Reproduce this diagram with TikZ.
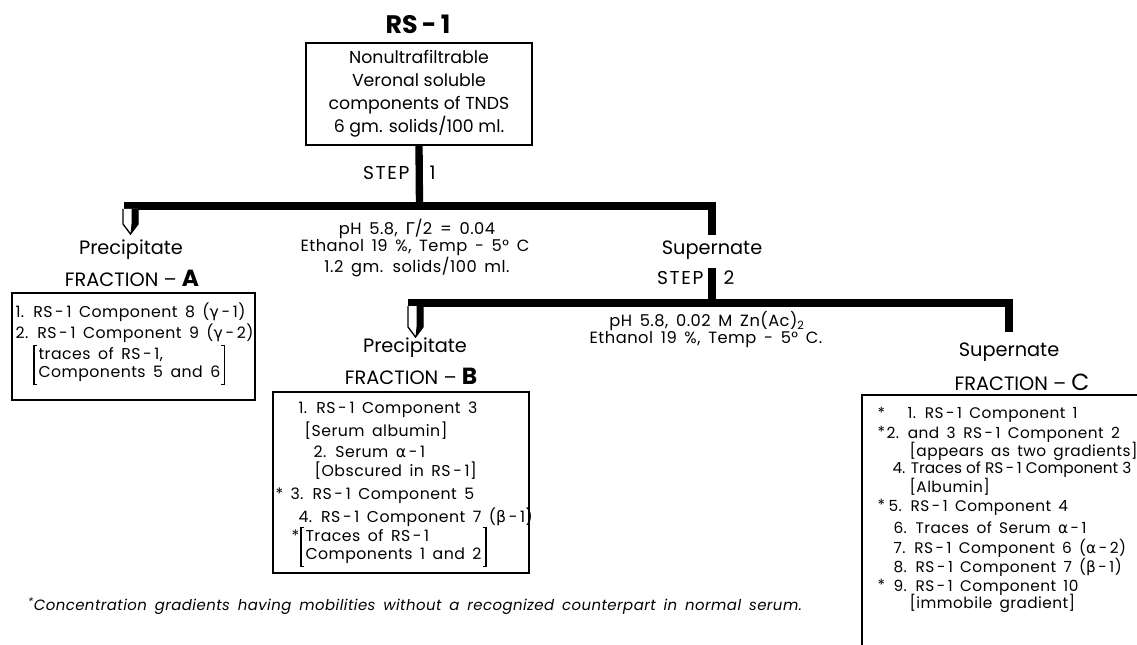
\documentclass[tikz,border=0pt]{standalone}
\usepackage{fontspec}
\setmainfont{Poppins}
\newfontfamily\spaced[LetterSpace=3, WordSpace=1.6]{Poppins}
\newfontfamily\grkfont{DejaVu Sans}
\usetikzlibrary{positioning}

\newcommand{\gk}[1]{{\grkfont #1}}
\newcommand{\rsone}{RS\,-\,1}
% pen-shaped drop: x centre, top, tip
\newcommand{\pentip}[3]{%
  \draw[line width=1pt, fill=white] (#1-7.5,#2) -- (#1-7.5,#3-10) -- (#1,#3) -- (#1+7.5,#3-10) -- (#1+7.5,#2);
  \fill (#1+1,#2) -- (#1+1,#3-10) -- (#1,#3) -- (#1+7.5,#3-10) -- (#1+7.5,#2) -- cycle;}
% square brackets round a two-line node
\newcommand{\sqbr}[1]{%
  \draw[line width=0.8pt] ([xshift=2.5pt]#1.north west) -- (#1.north west) -- (#1.south west) -- ([xshift=2.5pt]#1.south west)
    ([xshift=-2.5pt]#1.north east) -- (#1.north east) -- (#1.south east) -- ([xshift=-2.5pt]#1.south east);}

\tikzset{every picture/.style={line width=0.75pt}}
\tikzset{
  ttl/.style={inner sep=0.75pt, font=\fontsize{19}{22}\selectfont\bfseries},
  hd/.style={inner sep=0.75pt, font=\fontsize{14.5}{16}\selectfont},
  cond/.style={inner sep=0.75pt, font=\spaced\fontsize{12.2}{14}\selectfont},
  stp/.style={inner sep=0.75pt, font=\spaced\addfontfeatures{LetterSpace=9}\fontsize{14}{16}\selectfont},
  lst/.style={anchor=west, inner sep=0.75pt, font=\spaced\fontsize{11.8}{13.5}\selectfont},
  lstc/.style={lst, font=\spaced\fontsize{11.5}{13.5}\selectfont},
  brk/.style={lst, align=left, inner xsep=3pt, inner ysep=1.5pt},
  fbox/.style={draw, line width=1.1pt},
  bar/.style={line width=6pt},
  stem/.style={line width=5.5pt},
}

\begin{document}
\begin{tikzpicture}[x=0.75pt,y=0.75pt,yscale=-1,xscale=1]
\useasboundingbox (0,0) rectangle (1137,645);
\clip (0,0) rectangle (1137,645);

% Text Node
\node[ttl] (rs) at (418,24) {RS\,-\,1};
%Shape: Rectangle
\node[fbox, minimum width=169.5pt, minimum height=76.5pt, align=center,
      font=\fontsize{13}{17.25}\selectfont] (src) at (419,94)
  {Nonultrafiltrable\\Veronal soluble\\components of TNDS\\6 gm. solids/100 ml.};

% Text Node
\node[stp, anchor=east] (st1) at (411,173) {STEP};
\node[stp, anchor=west] (st1n) at (428,173) {1};
% Text Node
\node[cond] (c1a) at (417,229) {pH 5.8, \gk{Γ}/2 = 0.04};
\node[cond] (c1b) at (415,248) {Ethanol 19 \%, Temp - 5° C};
\node[cond] (c1c) at (417,267) {1.2 gm. solids/100 ml.};

% Text Node
\node[hd] (pA) at (131,250) {Precipitate};
\node[hd] (fA) at (132,278) {FRACTION -- {\fontsize{17.5}{20}\selectfont\bfseries A}};
\node[hd] (sup1) at (712,250) {Supernate};

%Straight Lines
\coordinate (j1) at (419.5,206);
\draw[stem] (src.south) -- (j1);
\draw[bar] (j1) -- (pA.north |- j1) -- ++(-7.5,0);
\draw[bar, line join=miter, shorten >=3pt] (j1) -| (sup1.north);
\pentip{130.5}{209}{234}

% Text Node
\node[stp, anchor=east] (st2) at (705,278) {STEP};
\node[stp, anchor=west] (st2n) at (722,278) {2};
\node[cond] (c2a) at (707,321) {pH 5.8, 0.02 M Zn(Ac)\textsubscript{2}};
\node[cond] (c2b) at (706,340) {Ethanol 19 \%, Temp - 5° C.};

% Text Node
\node[hd] (pB) at (415,348) {Precipitate};
\node[hd] (fB) at (411,376) {FRACTION -- {\fontsize{17.5}{20}\selectfont\bfseries B}};
\node[hd] (supC) at (1009,352) {Supernate};
\node[hd] (fC) at (1022,382) {FRACTION -- {\fontsize{17.5}{20}\selectfont C}};

%Straight Lines
\coordinate (j2) at (712,303);
\draw[stem, shorten <=5pt] (sup1.south) -- (j2);
\draw[bar] (j2) -- (pB.north |- j2) -- ++(-7.5,0);
\draw[bar, line join=miter, shorten >=7pt] (j2) -| (supC.north);
\pentip{415.5}{306}{337}

%Shape: Rectangle
\draw[line width=1.1pt] (12,293) rectangle (255,400);
% Text Node
\node[lst] (a1) at (14,312) {1. \rsone\ Component 8 (\gk{γ}\,-\,1)};
\node[lst] (a2) at (14,333) {2. \rsone\ Component 9 (\gk{γ}\,-\,2)};
\node[brk] (a3) at (34,365) {traces of \rsone,\\Components 5 and 6};
\sqbr{a3}

%Shape: Rectangle
\draw[line width=1.1pt] (273,392) rectangle (529,573);
% Text Node
\node[lst] (b1) at (297,410) {1. \rsone\ Component 3};
\node[lst] (b2) at (303,431) {[Serum albumin]};
\node[lst] (b3) at (312,452) {2. Serum \gk{α}\,-\,1};
\node[lst] (b4) at (313,471) {[Obscured in \rsone]};
\node[lst] (b5s) at (274,494) {*};
\node[lst] (b5) at (289,496) {3. \rsone\ Component 5};
\node[lst] (b6) at (297,517) {4. \rsone\ Component 7 (\gk{β}\,-\,1)};
\node[lst] (b7s) at (290,536) {*};
\node[brk] (b7) at (301,547) {Traces of \rsone\\Components 1 and 2};
\sqbr{b7}

%Shape: Rectangle (open to the right and below)
\draw[line width=1.1pt] (1137,395) -- (862,395) -- (862,645);
% Text Node
\node[lstc] (c1s) at (876,413) {*};
\node[lstc] (c1) at (906,415) {1. \rsone\ Component 1};
\node[lstc] (c2s) at (876,432) {*};
\node[lstc] (c2) at (885,435) {2. and 3\enspace \rsone\ Component 2};
\node[lstc] (c3) at (908,451) {[appears as two gradients]};
\node[lstc, font=\fontsize{11.5}{13.5}\selectfont] (c4) at (891,470) {4. Traces of \rsone\ Component 3};
\node[lstc] (c5) at (908,487) {[Albumin]};
\node[lstc] (c6s) at (876,505) {*};
\node[lstc] (c6) at (887,508) {5. \rsone\ Component 4};
\node[lstc] (c7) at (892,528) {6. Traces of Serum \gk{α}\,-\,1};
\node[lstc] (c8) at (892,548) {7. \rsone\ Component 6 (\gk{α}\,-\,2)};
\node[lstc] (c9) at (892,567) {8. \rsone\ Component 7 (\gk{β}\,-\,1)};
\node[lstc] (c10s) at (876,585) {*};
\node[lstc] (c10) at (892,588) {9. \rsone\ Component 10};
\node[lstc] (c11) at (908,603) {[immobile gradient]};

% Text Node
\node[inner sep=0.75pt, font=\spaced\fontsize{11.2}{13}\selectfont\itshape] (note) at (415,606)
  {\textsuperscript{*}Concentration gradients having mobilities without a recognized counterpart in normal serum.};

\end{tikzpicture}
\end{document}
